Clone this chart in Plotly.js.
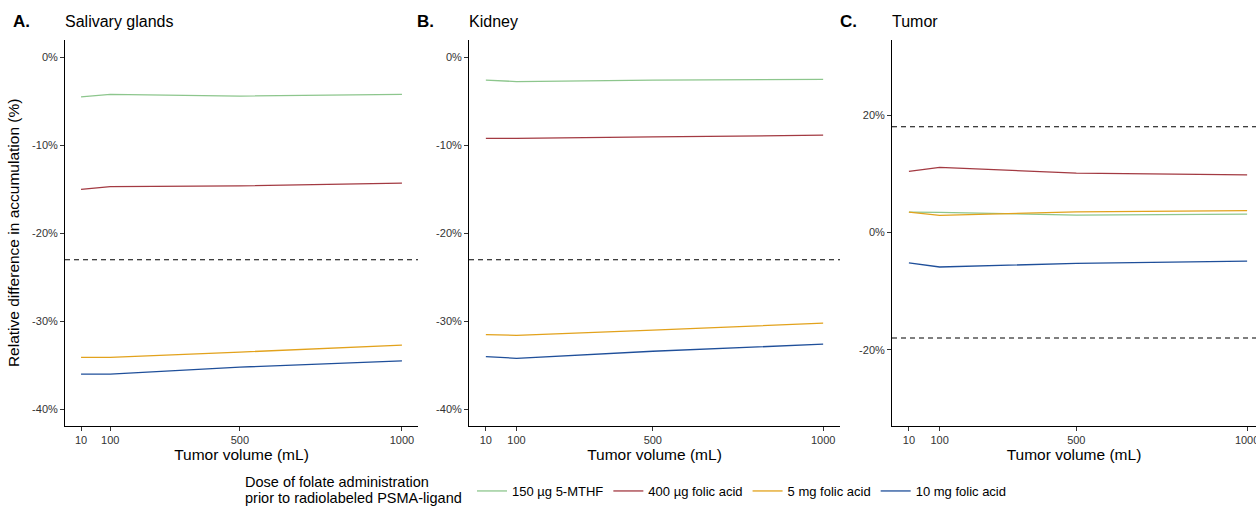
<!DOCTYPE html>
<html>
<head>
<meta charset="utf-8">
<script src="https://cdn.plot.ly/plotly-3.0.1.min.js"></script>
<style>html,body{margin:0;padding:0;background:#fff;}#chart{width:1256px;height:506px;}</style>
</head>
<body>
<div id="chart"></div>
<script>
// ---- data ----
const volumes = [10, 100, 500, 1000];
const seriesNames = ["150 µg 5-MTHF", "400 µg folic acid", "5 mg folic acid", "10 mg folic acid"];
const seriesColors = ["#8dc68d", "#a33a42", "#e2a21c", "#1f4f9a"];

// Panel A: Salivary glands (%)
const salivary_mthf150 = [-4.5, -4.2, -4.4, -4.2];
const salivary_fa400   = [-15.0, -14.7, -14.6, -14.3];
const salivary_fa5mg   = [-34.1, -34.1, -33.5, -32.7];
const salivary_fa10mg  = [-36.0, -36.0, -35.2, -34.5];

// Panel B: Kidney (%)
const kidney_mthf150 = [-2.6, -2.75, -2.6, -2.5];
const kidney_fa400   = [-9.2, -9.2, -9.05, -8.85];
const kidney_fa5mg   = [-31.5, -31.6, -31.0, -30.2];
const kidney_fa10mg  = [-34.0, -34.2, -33.4, -32.6];

// Panel C: Tumor (%)
const tumor_mthf150 = [3.45, 3.4, 2.95, 3.1];
const tumor_fa400   = [10.4, 11.1, 10.1, 9.8];
const tumor_fa5mg   = [3.45, 2.9, 3.5, 3.7];
const tumor_fa10mg  = [-5.2, -5.9, -5.3, -4.9];

// reference (dashed) thresholds
const thresholdsA = [-23];
const thresholdsB = [-23];
const thresholdsC = [18, -18];

// tick labels
const xTickVals = [10, 100, 500, 1000];
const yTickValsAB = [0, -10, -20, -30, -40];
const yTickTextAB = ["0%", "-10%", "-20%", "-30%", "-40%"];
const yTickValsC = [20, 0, -20];
const yTickTextC = ["20%", "0%", "-20%"];

const panelLetters = ["A.", "B.", "C."];
const panelTitles = ["Salivary glands", "Kidney", "Tumor"];
const xTitle = "Tumor volume (mL)";
const yTitle = "Relative difference in accumulation (%)";
const legendTitleLines = ["Dose of folate administration", "prior to radiolabeled PSMA-ligand"];

// ---- build ----
const W = 1256, H = 506;
const panels = [
  {ax: "", data: [salivary_mthf150, salivary_fa400, salivary_fa5mg, salivary_fa10mg], left: 65, right: 418, th: thresholdsA},
  {ax: "2", data: [kidney_mthf150, kidney_fa400, kidney_fa5mg, kidney_fa10mg], left: 469, right: 840, th: thresholdsB},
  {ax: "3", data: [tumor_mthf150, tumor_fa400, tumor_fa5mg, tumor_fa10mg], left: 892, right: 1256, th: thresholdsC}
];
const plotTop = 40, plotBottom = 425.7;
const yDomain = [(H - plotBottom) / H, (H - plotTop) / H];

const traces = [];
panels.forEach((p, pi) => {
  p.data.forEach((vals, si) => {
    traces.push({
      type: "scatter", mode: "lines",
      x: volumes, y: vals,
      name: seriesNames[si],
      legendgroup: seriesNames[si],
      showlegend: pi === 0,
      line: {color: seriesColors[si], width: 1.3},
      xaxis: "x" + p.ax, yaxis: "y" + p.ax,
      hoverinfo: "x+y+name"
    });
  });
});

const FAM = "Liberation Sans, Arial, sans-serif";
const tickFont = {family: FAM, size: 11, color: "#333"};
const titleFont = {family: FAM, size: 15.5, color: "#000"};

const layout = {
  width: W, height: H,
  margin: {l: 0, r: 0, t: 0, b: 0, autoexpand: false},
  paper_bgcolor: "#fff", plot_bgcolor: "#fff",
  font: {family: FAM, color: "#000"},
  showlegend: true,
  legend: {
    orientation: "h", x: 472 / W, xanchor: "left", y: 15 / H, yanchor: "middle",
    font: {family: FAM, size: 13, color: "#000"},
    itemwidth: 30, tracegroupgap: 0, bgcolor: "rgba(0,0,0,0)"
  },
  shapes: [], annotations: []
};

// legend title (two lines, left of the legend items)
legendTitleLines.forEach((t, i) => {
  layout.annotations.push({
    xref: "paper", yref: "paper", x: 243 / W, y: (H - (482 + i * 15.5)) / H,
    xanchor: "left", yanchor: "middle", showarrow: false,
    text: t, font: {family: FAM, size: 14.5, color: "#000"}
  });
});

const xRanges = [[-39.5, 1049.5], [-39.5, 1049.5], [-39.5, 1026]];
const yRanges = [[-41.86, 1.97], [-41.86, 1.97], [-32.96, 32.8]];

panels.forEach((p, pi) => {
  const xa = "xaxis" + p.ax, ya = "yaxis" + p.ax;
  layout[xa] = {
    domain: [p.left / W, p.right / W], anchor: "y" + p.ax,
    range: xRanges[pi], tickvals: xTickVals, ticktext: xTickVals.map(String),
    showgrid: false, zeroline: false, showline: true, linecolor: "#000", linewidth: 1,
    ticks: "outside", ticklen: 4, tickcolor: "#333", tickwidth: 1,
    tickfont: tickFont, ticklabeloverflow: "allow",
    title: {text: xTitle, font: titleFont, standoff: 4},
    fixedrange: true
  };
  layout[ya] = {
    domain: yDomain, anchor: "x" + p.ax,
    range: yRanges[pi],
    tickvals: pi < 2 ? yTickValsAB : yTickValsC,
    ticktext: pi < 2 ? yTickTextAB : yTickTextC,
    showgrid: false, zeroline: false, showline: true, linecolor: "#000", linewidth: 1,
    ticks: "outside", ticklen: 4, tickcolor: "#333", tickwidth: 1,
    tickfont: tickFont, ticklabeloverflow: "allow",
    fixedrange: true
  };
  if (pi === 0) {
    layout[ya].title = {text: yTitle, font: titleFont, standoff: 8};
  }
  p.th.forEach(v => {
    layout.shapes.push({
      type: "line", xref: "x" + p.ax + " domain", yref: "y" + p.ax,
      x0: 0, x1: 1, y0: v, y1: v,
      line: {color: "#000", width: 1.1, dash: "5px,4px"}
    });
  });
  layout.annotations.push({
    xref: "paper", yref: "paper", x: (p.left - 54) / W, y: (H - 22) / H,
    xanchor: "left", yanchor: "middle", showarrow: false,
    text: "<b>" + panelLetters[pi] + "</b>", font: {family: FAM, size: 17, color: "#000"}
  });
  layout.annotations.push({
    xref: "paper", yref: "paper", x: (p.left - 2) / W, y: (H - 22) / H,
    xanchor: "left", yanchor: "middle", showarrow: false,
    text: panelTitles[pi], font: {family: FAM, size: 16, color: "#000"}
  });
});

Plotly.newPlot("chart", traces, layout, {displayModeBar: false, staticPlot: true});
</script>
</body>
</html>
